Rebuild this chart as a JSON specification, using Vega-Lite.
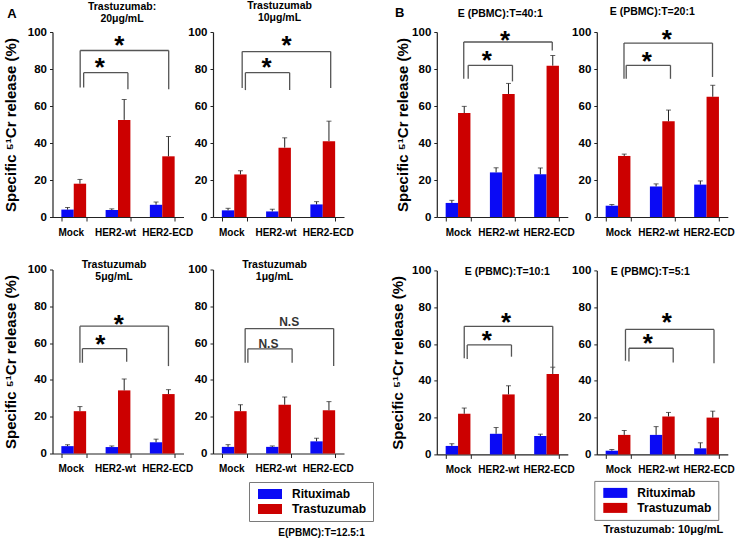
{
"$schema": "https://vega.github.io/schema/vega-lite/v6.json",
"background": "white",
"padding": {"left": 3.5, "top": 1, "right": 0, "bottom": 0},
"config": {
  "font": "Liberation Sans",
  "view": {"stroke": null},
  "axis": {"domainColor": "#222", "tickColor": "#222", "labelColor": "#000", "labelFontWeight": "bold", "labelFont": "Liberation Sans", "grid": false, "titleColor": "#000", "titleFontWeight": "bold", "titleFont": "Liberation Sans", "labelOverlap": false},
  "axisX": {"labelFontSize": 10, "labelAngle": 0, "tickSize": 4, "labelPadding": 6, "tickBand": "extent", "tickExtra": false, "domainWidth": 1.2},
  "axisY": {"labelFontSize": 11.5, "tickSize": 3, "labelPadding": 3, "titleFontSize": 15, "domainWidth": 1.2, "tickCount": 10},
  "title": {"fontSize": 10.5, "fontWeight": "bold", "color": "#000", "lineHeight": 12, "font": "Liberation Sans", "frame": "group", "anchor": "middle"}
},
"datasets": {
  "bars": [
    {"p":"A1","c":"Mock","s":"Rituximab","v":4,"hi":5.2},
    {"p":"A1","c":"Mock","s":"Trastuzumab","v":18,"hi":20.3},
    {"p":"A1","c":"HER2-wt","s":"Rituximab","v":3.8,"hi":4.4},
    {"p":"A1","c":"HER2-wt","s":"Trastuzumab","v":52.5,"hi":63.5},
    {"p":"A1","c":"HER2-ECD","s":"Rituximab","v":6.6,"hi":8.1},
    {"p":"A1","c":"HER2-ECD","s":"Trastuzumab","v":32.8,"hi":43.5},
    {"p":"A2","c":"Mock","s":"Rituximab","v":3.6,"hi":4.7},
    {"p":"A2","c":"Mock","s":"Trastuzumab","v":23,"hi":25},
    {"p":"A2","c":"HER2-wt","s":"Rituximab","v":3,"hi":4.2},
    {"p":"A2","c":"HER2-wt","s":"Trastuzumab","v":37.5,"hi":42.8},
    {"p":"A2","c":"HER2-ECD","s":"Rituximab","v":6.8,"hi":8.3},
    {"p":"A2","c":"HER2-ECD","s":"Trastuzumab","v":41,"hi":51.8},
    {"p":"A3","c":"Mock","s":"Rituximab","v":4,"hi":4.8},
    {"p":"A3","c":"Mock","s":"Trastuzumab","v":23,"hi":25.5},
    {"p":"A3","c":"HER2-wt","s":"Rituximab","v":3.5,"hi":4.1},
    {"p":"A3","c":"HER2-wt","s":"Trastuzumab","v":34.3,"hi":40.5},
    {"p":"A3","c":"HER2-ECD","s":"Rituximab","v":6.1,"hi":7.8},
    {"p":"A3","c":"HER2-ECD","s":"Trastuzumab","v":32.3,"hi":34.7},
    {"p":"A4","c":"Mock","s":"Rituximab","v":3.6,"hi":4.8},
    {"p":"A4","c":"Mock","s":"Trastuzumab","v":23,"hi":26.5},
    {"p":"A4","c":"HER2-wt","s":"Rituximab","v":3.6,"hi":4.1},
    {"p":"A4","c":"HER2-wt","s":"Trastuzumab","v":26.5,"hi":30.7},
    {"p":"A4","c":"HER2-ECD","s":"Rituximab","v":6.6,"hi":8.3},
    {"p":"A4","c":"HER2-ECD","s":"Trastuzumab","v":23.5,"hi":28.2},
    {"p":"B1","c":"Mock","s":"Rituximab","v":7.6,"hi":9},
    {"p":"B1","c":"Mock","s":"Trastuzumab","v":56.2,"hi":59.8},
    {"p":"B1","c":"HER2-wt","s":"Rituximab","v":24.1,"hi":26.6},
    {"p":"B1","c":"HER2-wt","s":"Trastuzumab","v":66.5,"hi":72.2},
    {"p":"B1","c":"HER2-ECD","s":"Rituximab","v":23.1,"hi":26.5},
    {"p":"B1","c":"HER2-ECD","s":"Trastuzumab","v":81.8,"hi":87.3},
    {"p":"B2","c":"Mock","s":"Rituximab","v":6.1,"hi":6.7},
    {"p":"B2","c":"Mock","s":"Trastuzumab","v":33,"hi":34},
    {"p":"B2","c":"HER2-wt","s":"Rituximab","v":16.5,"hi":17.9},
    {"p":"B2","c":"HER2-wt","s":"Trastuzumab","v":51.7,"hi":57.8},
    {"p":"B2","c":"HER2-ECD","s":"Rituximab","v":17.5,"hi":19.5},
    {"p":"B2","c":"HER2-ECD","s":"Trastuzumab","v":65,"hi":71.2},
    {"p":"B3","c":"Mock","s":"Rituximab","v":4.6,"hi":5.8},
    {"p":"B3","c":"Mock","s":"Trastuzumab","v":22.1,"hi":25.2},
    {"p":"B3","c":"HER2-wt","s":"Rituximab","v":11.2,"hi":14.6},
    {"p":"B3","c":"HER2-wt","s":"Trastuzumab","v":32.6,"hi":37.3},
    {"p":"B3","c":"HER2-ECD","s":"Rituximab","v":10,"hi":11},
    {"p":"B3","c":"HER2-ECD","s":"Trastuzumab","v":43.7,"hi":47.4},
    {"p":"B4","c":"Mock","s":"Rituximab","v":2,"hi":2.6},
    {"p":"B4","c":"Mock","s":"Trastuzumab","v":10.6,"hi":13},
    {"p":"B4","c":"HER2-wt","s":"Rituximab","v":10.6,"hi":15.1},
    {"p":"B4","c":"HER2-wt","s":"Trastuzumab","v":20.6,"hi":22.8},
    {"p":"B4","c":"HER2-ECD","s":"Rituximab","v":3.3,"hi":6.3},
    {"p":"B4","c":"HER2-ECD","s":"Trastuzumab","v":20,"hi":23.5}
  ],
  "brk": [
    {"p":"A1","b":"big","c1":"Mock","c2":"Mock","y1":70,"y2":90},
    {"p":"A1","b":"big","c1":"Mock","c2":"HER2-ECD","y1":90,"y2":90},
    {"p":"A1","b":"big","c1":"HER2-ECD","c2":"HER2-ECD","y1":69,"y2":90},
    {"p":"A1","b":"small","c1":"Mock","c2":"Mock","y1":70,"y2":78},
    {"p":"A1","b":"small","c1":"Mock","c2":"HER2-wt","y1":78,"y2":78},
    {"p":"A1","b":"small","c1":"HER2-wt","c2":"HER2-wt","y1":69,"y2":78},
    {"p":"A2","b":"big","c1":"Mock","c2":"Mock","y1":69.7,"y2":89.4},
    {"p":"A2","b":"big","c1":"Mock","c2":"HER2-ECD","y1":89.4,"y2":89.4},
    {"p":"A2","b":"big","c1":"HER2-ECD","c2":"HER2-ECD","y1":69.7,"y2":89.4},
    {"p":"A2","b":"small","c1":"Mock","c2":"Mock","y1":68.6,"y2":78},
    {"p":"A2","b":"small","c1":"Mock","c2":"HER2-wt","y1":78,"y2":78},
    {"p":"A2","b":"small","c1":"HER2-wt","c2":"HER2-wt","y1":68.6,"y2":78},
    {"p":"A3","b":"big","c1":"Mock","c2":"Mock","y1":49.3,"y2":69.2},
    {"p":"A3","b":"big","c1":"Mock","c2":"HER2-ECD","y1":69.2,"y2":69.2},
    {"p":"A3","b":"big","c1":"HER2-ECD","c2":"HER2-ECD","y1":47.5,"y2":69.2},
    {"p":"A3","b":"small","c1":"Mock","c2":"Mock","y1":49.3,"y2":57},
    {"p":"A3","b":"small","c1":"Mock","c2":"HER2-wt","y1":57,"y2":57},
    {"p":"A3","b":"small","c1":"HER2-wt","c2":"HER2-wt","y1":49.8,"y2":57},
    {"p":"A4","b":"big","c1":"Mock","c2":"Mock","y1":49.3,"y2":67.9},
    {"p":"A4","b":"big","c1":"Mock","c2":"HER2-ECD","y1":67.9,"y2":67.9},
    {"p":"A4","b":"big","c1":"HER2-ECD","c2":"HER2-ECD","y1":47.5,"y2":67.9},
    {"p":"A4","b":"small","c1":"Mock","c2":"Mock","y1":49.3,"y2":56.9},
    {"p":"A4","b":"small","c1":"Mock","c2":"HER2-wt","y1":56.9,"y2":56.9},
    {"p":"A4","b":"small","c1":"HER2-wt","c2":"HER2-wt","y1":49.3,"y2":56.9},
    {"p":"B1","b":"big","c1":"Mock","c2":"Mock","y1":74.7,"y2":94.6},
    {"p":"B1","b":"big","c1":"Mock","c2":"HER2-ECD","y1":94.6,"y2":94.6},
    {"p":"B1","b":"big","c1":"HER2-ECD","c2":"HER2-ECD","y1":90,"y2":94.6},
    {"p":"B1","b":"small","c1":"Mock","c2":"Mock","y1":74.7,"y2":82},
    {"p":"B1","b":"small","c1":"Mock","c2":"HER2-wt","y1":82,"y2":82},
    {"p":"B1","b":"small","c1":"HER2-wt","c2":"HER2-wt","y1":73.3,"y2":82},
    {"p":"B2","b":"big","c1":"Mock","c2":"Mock","y1":74.7,"y2":94},
    {"p":"B2","b":"big","c1":"Mock","c2":"HER2-ECD","y1":94,"y2":94},
    {"p":"B2","b":"big","c1":"HER2-ECD","c2":"HER2-ECD","y1":75.7,"y2":94},
    {"p":"B2","b":"small","c1":"Mock","c2":"Mock","y1":74.7,"y2":82},
    {"p":"B2","b":"small","c1":"Mock","c2":"HER2-wt","y1":82,"y2":82},
    {"p":"B2","b":"small","c1":"HER2-wt","c2":"HER2-wt","y1":74.7,"y2":82},
    {"p":"B3","b":"big","c1":"Mock","c2":"Mock","y1":52.2,"y2":69.6},
    {"p":"B3","b":"big","c1":"Mock","c2":"HER2-ECD","y1":69.6,"y2":69.6},
    {"p":"B3","b":"big","c1":"HER2-ECD","c2":"HER2-ECD","y1":46.3,"y2":69.6},
    {"p":"B3","b":"small","c1":"Mock","c2":"Mock","y1":51.8,"y2":59.5},
    {"p":"B3","b":"small","c1":"Mock","c2":"HER2-wt","y1":59.5,"y2":59.5},
    {"p":"B3","b":"small","c1":"HER2-wt","c2":"HER2-wt","y1":53.1,"y2":59.5},
    {"p":"B4","b":"big","c1":"Mock","c2":"Mock","y1":50.9,"y2":67.9},
    {"p":"B4","b":"big","c1":"Mock","c2":"HER2-ECD","y1":67.9,"y2":67.9},
    {"p":"B4","b":"big","c1":"HER2-ECD","c2":"HER2-ECD","y1":49.5,"y2":67.9},
    {"p":"B4","b":"small","c1":"Mock","c2":"Mock","y1":50.5,"y2":57.7},
    {"p":"B4","b":"small","c1":"Mock","c2":"HER2-wt","y1":57.7,"y2":57.7},
    {"p":"B4","b":"small","c1":"HER2-wt","c2":"HER2-wt","y1":50,"y2":57.7}
  ],
  "lab": [
    {"p":"A1","b":"big","c":"HER2-wt","y":92.4,"t":"*"},
    {"p":"A1","b":"small","c":"Mock","y":80.5,"t":"*"},
    {"p":"A2","b":"big","c":"HER2-wt","y":92.4,"t":"*"},
    {"p":"A2","b":"small","c":"Mock","y":80.5,"t":"*"},
    {"p":"A3","b":"big","c":"HER2-wt","y":69.6,"t":"*"},
    {"p":"A3","b":"small","c":"Mock","y":58.8,"t":"*"},
    {"p":"A4","b":"big","c":"HER2-wt","y":71.5,"t":"N.S"},
    {"p":"A4","b":"small","c":"Mock","y":59.7,"t":"N.S"},
    {"p":"B1","b":"big","c":"HER2-wt","y":95.3,"t":"*"},
    {"p":"B1","b":"small","c":"Mock","y":84.2,"t":"*"},
    {"p":"B2","b":"big","c":"HER2-wt","y":95.8,"t":"*"},
    {"p":"B2","b":"small","c":"Mock","y":83.8,"t":"*"},
    {"p":"B3","b":"big","c":"HER2-wt","y":71.2,"t":"*"},
    {"p":"B3","b":"small","c":"Mock","y":61.5,"t":"*"},
    {"p":"B4","b":"big","c":"HER2-wt","y":71.5,"t":"*"},
    {"p":"B4","b":"small","c":"Mock","y":60,"t":"*"}
  ]
},
"spacing": 16.3,
"resolve": {"legend": {"color": "independent"}},
"hconcat": [
 {"spacing": 22.5, "resolve": {"legend": {"color": "independent"}}, "vconcat": [
  {"spacing": 29.5, "bounds": "flush", "resolve": {"legend": {"color": "independent"}}, "hconcat": [
   {"width": 131, "height": 185,
    "title": {"text": ["Trastuzumab:", "20μg/mL"], "dx": 4, "offset": -16.5},
    "layer": [
     {"data": {"name": "bars"}, "transform": [{"filter": "datum.p == 'A1'"}], "mark": {"type": "bar"},
      "encoding": {
       "x": {"field": "c", "type": "nominal", "scale": {"domain": ["Mock","HER2-wt","HER2-ECD"], "paddingInner": 0.44, "paddingOuter": 0.2}, "axis": {"title": "A", "titleX": -41, "titleY": -203.5, "titleFontSize": 13, "titleAngle": 0, "titleAlign": "center", "titleBaseline": "middle", "labelOffset": {"condition": {"test": "datum.value == 'HER2-ECD'", "value": 5}, "value": -3}}},
       "xOffset": {"field": "s", "type": "nominal", "scale": {"domain": ["Rituximab","Trastuzumab"], "paddingInner": 0, "paddingOuter": 0}},
       "y": {"field": "v", "type": "quantitative", "scale": {"domain": [0,100], "nice": false}, "axis": {"values": [0,20,40,60,80,100], "tickCount": 10, "labelOverlap": false, "title": "Specific ⁵¹Cr release (%)", "titlePadding": 8.8}},
       "color": {"field": "s", "type": "nominal", "scale": {"domain": ["Rituximab","Trastuzumab"], "range": ["#0a0af5","#cc0000"]}, "legend": null}}},
     {"data": {"name": "bars"}, "transform": [{"filter": "datum.p == 'A1'"}], "mark": {"type": "rule", "color": "#222"},
      "encoding": {"x": {"field": "c", "type": "nominal", "scale": {"domain": ["Mock","HER2-wt","HER2-ECD"]}}, "xOffset": {"field": "s", "type": "nominal", "scale": {"domain": ["Rituximab","Trastuzumab"]}}, "y": {"field": "v", "type": "quantitative", "scale": {"domain": [0,100]}}, "y2": {"field": "hi"}}},
     {"data": {"name": "bars"}, "transform": [{"filter": "datum.p == 'A1'"}], "mark": {"type": "tick", "color": "#222", "thickness": 1, "size": 5},
      "encoding": {"x": {"field": "c", "type": "nominal", "scale": {"domain": ["Mock","HER2-wt","HER2-ECD"]}}, "xOffset": {"field": "s", "type": "nominal", "scale": {"domain": ["Rituximab","Trastuzumab"]}}, "y": {"field": "hi", "type": "quantitative", "scale": {"domain": [0,100]}}}},
     {"data": {"name": "brk"}, "transform": [{"filter": "datum.p == 'A1' && datum.b == 'big'"}], "mark": {"type": "rule", "color": "#555", "strokeWidth": 1.3},
      "encoding": {"x": {"field": "c1", "type": "nominal", "scale": {"domain": ["Mock","HER2-wt","HER2-ECD"]}, "bandPosition": 0.76}, "x2": {"field": "c2", "bandPosition": 0.76}, "y": {"field": "y1", "type": "quantitative", "scale": {"domain": [0,100]}}, "y2": {"field": "y2"}}},
     {"data": {"name": "brk"}, "transform": [{"filter": "datum.p == 'A1' && datum.b == 'small'"}], "mark": {"type": "rule", "color": "#555", "strokeWidth": 1.3},
      "encoding": {"x": {"field": "c1", "type": "nominal", "scale": {"domain": ["Mock","HER2-wt","HER2-ECD"]}, "bandPosition": 0.9}, "x2": {"field": "c2", "bandPosition": 0.9}, "y": {"field": "y1", "type": "quantitative", "scale": {"domain": [0,100]}}, "y2": {"field": "y2"}}},
     {"data": {"name": "lab"}, "transform": [{"filter": "datum.p == 'A1' && datum.b == 'big'"}], "mark": {"type": "text", "fontSize": 26, "fontWeight": "bold", "baseline": "middle", "color": "#000"},
      "encoding": {"x": {"field": "c", "type": "nominal", "scale": {"domain": ["Mock","HER2-wt","HER2-ECD"]}, "bandPosition": 0.55}, "y": {"field": "y", "type": "quantitative", "scale": {"domain": [0,100]}}, "text": {"field": "t"}}},
     {"data": {"name": "lab"}, "transform": [{"filter": "datum.p == 'A1' && datum.b == 'small'"}], "mark": {"type": "text", "fontSize": 26, "fontWeight": "bold", "baseline": "middle", "color": "#000"},
      "encoding": {"x": {"field": "c", "type": "nominal", "scale": {"domain": ["Mock","HER2-wt","HER2-ECD"]}, "bandPosition": 1.55}, "y": {"field": "y", "type": "quantitative", "scale": {"domain": [0,100]}}, "text": {"field": "t"}}}
    ]},
   {"width": 131, "height": 185,
    "title": {"text": ["Trastuzumab", "10μg/mL"], "dx": 1, "offset": 2.5},
    "layer": [
     {"data": {"name": "bars"}, "transform": [{"filter": "datum.p == 'A2'"}], "mark": {"type": "bar"},
      "encoding": {
       "x": {"field": "c", "type": "nominal", "scale": {"domain": ["Mock","HER2-wt","HER2-ECD"], "paddingInner": 0.44, "paddingOuter": 0.2}, "axis": {"title": null, "labelOffset": {"condition": {"test": "datum.value == 'HER2-ECD'", "value": 5}, "value": -3}}},
       "xOffset": {"field": "s", "type": "nominal", "scale": {"domain": ["Rituximab","Trastuzumab"], "paddingInner": 0, "paddingOuter": 0}},
       "y": {"field": "v", "type": "quantitative", "scale": {"domain": [0,100], "nice": false}, "axis": {"values": [0,20,40,60,80,100], "tickCount": 10, "labelOverlap": false, "title": null}},
       "color": {"field": "s", "type": "nominal", "scale": {"domain": ["Rituximab","Trastuzumab"], "range": ["#0a0af5","#cc0000"]}, "legend": null}}},
     {"data": {"name": "bars"}, "transform": [{"filter": "datum.p == 'A2'"}], "mark": {"type": "rule", "color": "#222"},
      "encoding": {"x": {"field": "c", "type": "nominal", "scale": {"domain": ["Mock","HER2-wt","HER2-ECD"]}}, "xOffset": {"field": "s", "type": "nominal", "scale": {"domain": ["Rituximab","Trastuzumab"]}}, "y": {"field": "v", "type": "quantitative", "scale": {"domain": [0,100]}}, "y2": {"field": "hi"}}},
     {"data": {"name": "bars"}, "transform": [{"filter": "datum.p == 'A2'"}], "mark": {"type": "tick", "color": "#222", "thickness": 1, "size": 5},
      "encoding": {"x": {"field": "c", "type": "nominal", "scale": {"domain": ["Mock","HER2-wt","HER2-ECD"]}}, "xOffset": {"field": "s", "type": "nominal", "scale": {"domain": ["Rituximab","Trastuzumab"]}}, "y": {"field": "hi", "type": "quantitative", "scale": {"domain": [0,100]}}}},
     {"data": {"name": "brk"}, "transform": [{"filter": "datum.p == 'A2' && datum.b == 'big'"}], "mark": {"type": "rule", "color": "#555", "strokeWidth": 1.3},
      "encoding": {"x": {"field": "c1", "type": "nominal", "scale": {"domain": ["Mock","HER2-wt","HER2-ECD"]}, "bandPosition": 0.82}, "x2": {"field": "c2", "bandPosition": 0.82}, "y": {"field": "y1", "type": "quantitative", "scale": {"domain": [0,100]}}, "y2": {"field": "y2"}}},
     {"data": {"name": "brk"}, "transform": [{"filter": "datum.p == 'A2' && datum.b == 'small'"}], "mark": {"type": "rule", "color": "#555", "strokeWidth": 1.3},
      "encoding": {"x": {"field": "c1", "type": "nominal", "scale": {"domain": ["Mock","HER2-wt","HER2-ECD"]}, "bandPosition": 0.95}, "x2": {"field": "c2", "bandPosition": 0.95}, "y": {"field": "y1", "type": "quantitative", "scale": {"domain": [0,100]}}, "y2": {"field": "y2"}}},
     {"data": {"name": "lab"}, "transform": [{"filter": "datum.p == 'A2' && datum.b == 'big'"}], "mark": {"type": "text", "fontSize": 26, "fontWeight": "bold", "baseline": "middle", "color": "#000"},
      "encoding": {"x": {"field": "c", "type": "nominal", "scale": {"domain": ["Mock","HER2-wt","HER2-ECD"]}, "bandPosition": 0.83}, "y": {"field": "y", "type": "quantitative", "scale": {"domain": [0,100]}}, "text": {"field": "t"}}},
     {"data": {"name": "lab"}, "transform": [{"filter": "datum.p == 'A2' && datum.b == 'small'"}], "mark": {"type": "text", "fontSize": 26, "fontWeight": "bold", "baseline": "middle", "color": "#000"},
      "encoding": {"x": {"field": "c", "type": "nominal", "scale": {"domain": ["Mock","HER2-wt","HER2-ECD"]}, "bandPosition": 1.8}, "y": {"field": "y", "type": "quantitative", "scale": {"domain": [0,100]}}, "text": {"field": "t"}}}
    ]}
  ]},
  {"spacing": 29.5, "bounds": "flush", "resolve": {"legend": {"color": "independent"}}, "hconcat": [
   {"width": 131, "height": 184,
    "title": {"text": ["Trastuzumab", "5μg/mL"], "dx": -4, "offset": -18.75},
    "layer": [
     {"data": {"name": "bars"}, "transform": [{"filter": "datum.p == 'A3'"}], "mark": {"type": "bar"},
      "encoding": {
       "x": {"field": "c", "type": "nominal", "scale": {"domain": ["Mock","HER2-wt","HER2-ECD"], "paddingInner": 0.44, "paddingOuter": 0.2}, "axis": {"title": null, "labelOffset": {"condition": {"test": "datum.value == 'HER2-ECD'", "value": 5}, "value": -3}}},
       "xOffset": {"field": "s", "type": "nominal", "scale": {"domain": ["Rituximab","Trastuzumab"], "paddingInner": 0, "paddingOuter": 0}},
       "y": {"field": "v", "type": "quantitative", "scale": {"domain": [0,100], "nice": false}, "axis": {"values": [0,20,40,60,80,100], "tickCount": 10, "labelOverlap": false, "title": "Specific ⁵¹Cr release (%)", "titlePadding": 8.8}},
       "color": {"field": "s", "type": "nominal", "scale": {"domain": ["Rituximab","Trastuzumab"], "range": ["#0a0af5","#cc0000"]}, "legend": null}}},
     {"data": {"name": "bars"}, "transform": [{"filter": "datum.p == 'A3'"}], "mark": {"type": "rule", "color": "#222"},
      "encoding": {"x": {"field": "c", "type": "nominal", "scale": {"domain": ["Mock","HER2-wt","HER2-ECD"]}}, "xOffset": {"field": "s", "type": "nominal", "scale": {"domain": ["Rituximab","Trastuzumab"]}}, "y": {"field": "v", "type": "quantitative", "scale": {"domain": [0,100]}}, "y2": {"field": "hi"}}},
     {"data": {"name": "bars"}, "transform": [{"filter": "datum.p == 'A3'"}], "mark": {"type": "tick", "color": "#222", "thickness": 1, "size": 5},
      "encoding": {"x": {"field": "c", "type": "nominal", "scale": {"domain": ["Mock","HER2-wt","HER2-ECD"]}}, "xOffset": {"field": "s", "type": "nominal", "scale": {"domain": ["Rituximab","Trastuzumab"]}}, "y": {"field": "hi", "type": "quantitative", "scale": {"domain": [0,100]}}}},
     {"data": {"name": "brk"}, "transform": [{"filter": "datum.p == 'A3' && datum.b == 'big'"}], "mark": {"type": "rule", "color": "#555", "strokeWidth": 1.3},
      "encoding": {"x": {"field": "c1", "type": "nominal", "scale": {"domain": ["Mock","HER2-wt","HER2-ECD"]}, "bandPosition": 0.75}, "x2": {"field": "c2", "bandPosition": 0.75}, "y": {"field": "y1", "type": "quantitative", "scale": {"domain": [0,100]}}, "y2": {"field": "y2"}}},
     {"data": {"name": "brk"}, "transform": [{"filter": "datum.p == 'A3' && datum.b == 'small'"}], "mark": {"type": "rule", "color": "#555", "strokeWidth": 1.3},
      "encoding": {"x": {"field": "c1", "type": "nominal", "scale": {"domain": ["Mock","HER2-wt","HER2-ECD"]}, "bandPosition": 0.85}, "x2": {"field": "c2", "bandPosition": 0.85}, "y": {"field": "y1", "type": "quantitative", "scale": {"domain": [0,100]}}, "y2": {"field": "y2"}}},
     {"data": {"name": "lab"}, "transform": [{"filter": "datum.p == 'A3' && datum.b == 'big'"}], "mark": {"type": "text", "fontSize": 26, "fontWeight": "bold", "baseline": "middle", "color": "#000"},
      "encoding": {"x": {"field": "c", "type": "nominal", "scale": {"domain": ["Mock","HER2-wt","HER2-ECD"]}, "bandPosition": 0.53}, "y": {"field": "y", "type": "quantitative", "scale": {"domain": [0,100]}}, "text": {"field": "t"}}},
     {"data": {"name": "lab"}, "transform": [{"filter": "datum.p == 'A3' && datum.b == 'small'"}], "mark": {"type": "text", "fontSize": 26, "fontWeight": "bold", "baseline": "middle", "color": "#000"},
      "encoding": {"x": {"field": "c", "type": "nominal", "scale": {"domain": ["Mock","HER2-wt","HER2-ECD"]}, "bandPosition": 1.57}, "y": {"field": "y", "type": "quantitative", "scale": {"domain": [0,100]}}, "text": {"field": "t"}}}
    ]},
   {"width": 131, "height": 184,
    "title": {"text": ["Trastuzumab", "1μg/mL"], "dx": -4, "offset": -18.75},
    "layer": [
     {"data": {"name": "bars"}, "transform": [{"filter": "datum.p == 'A4'"}], "mark": {"type": "bar"},
      "encoding": {
       "x": {"field": "c", "type": "nominal", "scale": {"domain": ["Mock","HER2-wt","HER2-ECD"], "paddingInner": 0.44, "paddingOuter": 0.2}, "axis": {"title": "E(PBMC):T=12.5:1", "titleX": 108, "titleY": 79, "titleFontSize": 10, "titleAngle": 0, "titleAlign": "center", "titleBaseline": "middle", "labelOffset": {"condition": {"test": "datum.value == 'HER2-ECD'", "value": 5}, "value": -3}}},
       "xOffset": {"field": "s", "type": "nominal", "scale": {"domain": ["Rituximab","Trastuzumab"], "paddingInner": 0, "paddingOuter": 0}},
       "y": {"field": "v", "type": "quantitative", "scale": {"domain": [0,100], "nice": false}, "axis": {"values": [0,20,40,60,80,100], "tickCount": 10, "labelOverlap": false, "title": null}},
       "color": {"field": "s", "type": "nominal", "scale": {"domain": ["Rituximab","Trastuzumab"], "range": ["#0a0af5","#cc0000"]},
         "legend": {"orient": "none", "legendX": 36, "legendY": 212.5, "title": null, "direction": "vertical", "strokeColor": "#7a7a7a", "fillColor": "#ffffff", "padding": 6, "symbolType": "M-2.4,-1H2.4V1H-2.4Z", "symbolSize": 100, "symbolStrokeWidth": 0, "symbolOffset": 9, "labelOffset": 16, "labelFontSize": 12, "labelFontWeight": "bold", "labelColor": "#000", "rowPadding": 3}}}},
     {"data": {"name": "bars"}, "transform": [{"filter": "datum.p == 'A4'"}], "mark": {"type": "rule", "color": "#222"},
      "encoding": {"x": {"field": "c", "type": "nominal", "scale": {"domain": ["Mock","HER2-wt","HER2-ECD"]}}, "xOffset": {"field": "s", "type": "nominal", "scale": {"domain": ["Rituximab","Trastuzumab"]}}, "y": {"field": "v", "type": "quantitative", "scale": {"domain": [0,100]}}, "y2": {"field": "hi"}}},
     {"data": {"name": "bars"}, "transform": [{"filter": "datum.p == 'A4'"}], "mark": {"type": "tick", "color": "#222", "thickness": 1, "size": 5},
      "encoding": {"x": {"field": "c", "type": "nominal", "scale": {"domain": ["Mock","HER2-wt","HER2-ECD"]}}, "xOffset": {"field": "s", "type": "nominal", "scale": {"domain": ["Rituximab","Trastuzumab"]}}, "y": {"field": "hi", "type": "quantitative", "scale": {"domain": [0,100]}}}},
     {"data": {"name": "brk"}, "transform": [{"filter": "datum.p == 'A4' && datum.b == 'big'"}], "mark": {"type": "rule", "color": "#555", "strokeWidth": 1.3},
      "encoding": {"x": {"field": "c1", "type": "nominal", "scale": {"domain": ["Mock","HER2-wt","HER2-ECD"]}, "bandPosition": 0.94}, "x2": {"field": "c2", "bandPosition": 0.94}, "y": {"field": "y1", "type": "quantitative", "scale": {"domain": [0,100]}}, "y2": {"field": "y2"}}},
     {"data": {"name": "brk"}, "transform": [{"filter": "datum.p == 'A4' && datum.b == 'small'"}], "mark": {"type": "rule", "color": "#555", "strokeWidth": 1.3},
      "encoding": {"x": {"field": "c1", "type": "nominal", "scale": {"domain": ["Mock","HER2-wt","HER2-ECD"]}, "bandPosition": 1.05}, "x2": {"field": "c2", "bandPosition": 1.05}, "y": {"field": "y1", "type": "quantitative", "scale": {"domain": [0,100]}}, "y2": {"field": "y2"}}},
     {"data": {"name": "lab"}, "transform": [{"filter": "datum.p == 'A4' && datum.b == 'big'"}], "mark": {"type": "text", "fontSize": 12, "fontWeight": "bold", "baseline": "middle", "color": "#333"},
      "encoding": {"x": {"field": "c", "type": "nominal", "scale": {"domain": ["Mock","HER2-wt","HER2-ECD"]}, "bandPosition": 0.93}, "y": {"field": "y", "type": "quantitative", "scale": {"domain": [0,100]}}, "text": {"field": "t"}}},
     {"data": {"name": "lab"}, "transform": [{"filter": "datum.p == 'A4' && datum.b == 'small'"}], "mark": {"type": "text", "fontSize": 12, "fontWeight": "bold", "baseline": "middle", "color": "#333"},
      "encoding": {"x": {"field": "c", "type": "nominal", "scale": {"domain": ["Mock","HER2-wt","HER2-ECD"]}, "bandPosition": 1.88}, "y": {"field": "y", "type": "quantitative", "scale": {"domain": [0,100]}}, "text": {"field": "t"}}}
    ]}
  ]}
 ]},
 {"spacing": 27.4, "resolve": {"legend": {"color": "independent"}}, "vconcat": [
  {"spacing": 29, "bounds": "flush", "resolve": {"legend": {"color": "independent"}}, "hconcat": [
   {"width": 131, "height": 185,
    "title": {"text": ["", "E (PBMC):T=40:1"], "dx": -2, "offset": -13.1, "lineHeight": 1.2},
    "layer": [
     {"data": {"name": "bars"}, "transform": [{"filter": "datum.p == 'B1'"}], "mark": {"type": "bar"},
      "encoding": {
       "x": {"field": "c", "type": "nominal", "scale": {"domain": ["Mock","HER2-wt","HER2-ECD"], "paddingInner": 0.44, "paddingOuter": 0.2}, "axis": {"title": "B", "titleX": -37.5, "titleY": -204.3, "titleFontSize": 13, "titleAngle": 0, "titleAlign": "center", "titleBaseline": "middle", "labelOffset": {"condition": [{"test": "datum.value == 'HER2-ECD'", "value": 2}, {"test": "datum.value == 'HER2-wt'", "value": -4}], "value": 0}}},
       "xOffset": {"field": "s", "type": "nominal", "scale": {"domain": ["Rituximab","Trastuzumab"], "paddingInner": 0, "paddingOuter": 0}},
       "y": {"field": "v", "type": "quantitative", "scale": {"domain": [0,100], "nice": false}, "axis": {"values": [0,20,40,60,80,100], "tickCount": 10, "labelOverlap": false, "title": "Specific ⁵¹Cr release (%)", "titlePadding": 1}},
       "color": {"field": "s", "type": "nominal", "scale": {"domain": ["Rituximab","Trastuzumab"], "range": ["#0a0af5","#cc0000"]}, "legend": null}}},
     {"data": {"name": "bars"}, "transform": [{"filter": "datum.p == 'B1'"}], "mark": {"type": "rule", "color": "#222"},
      "encoding": {"x": {"field": "c", "type": "nominal", "scale": {"domain": ["Mock","HER2-wt","HER2-ECD"]}}, "xOffset": {"field": "s", "type": "nominal", "scale": {"domain": ["Rituximab","Trastuzumab"]}}, "y": {"field": "v", "type": "quantitative", "scale": {"domain": [0,100]}}, "y2": {"field": "hi"}}},
     {"data": {"name": "bars"}, "transform": [{"filter": "datum.p == 'B1'"}], "mark": {"type": "tick", "color": "#222", "thickness": 1, "size": 5},
      "encoding": {"x": {"field": "c", "type": "nominal", "scale": {"domain": ["Mock","HER2-wt","HER2-ECD"]}}, "xOffset": {"field": "s", "type": "nominal", "scale": {"domain": ["Rituximab","Trastuzumab"]}}, "y": {"field": "hi", "type": "quantitative", "scale": {"domain": [0,100]}}}},
     {"data": {"name": "brk"}, "transform": [{"filter": "datum.p == 'B1' && datum.b == 'big'"}], "mark": {"type": "rule", "color": "#555", "strokeWidth": 1.3},
      "encoding": {"x": {"field": "c1", "type": "nominal", "scale": {"domain": ["Mock","HER2-wt","HER2-ECD"]}, "bandPosition": 0.73}, "x2": {"field": "c2", "bandPosition": 0.73}, "y": {"field": "y1", "type": "quantitative", "scale": {"domain": [0,100]}}, "y2": {"field": "y2"}}},
     {"data": {"name": "brk"}, "transform": [{"filter": "datum.p == 'B1' && datum.b == 'small'"}], "mark": {"type": "rule", "color": "#555", "strokeWidth": 1.3},
      "encoding": {"x": {"field": "c1", "type": "nominal", "scale": {"domain": ["Mock","HER2-wt","HER2-ECD"]}, "bandPosition": 0.91}, "x2": {"field": "c2", "bandPosition": 0.91}, "y": {"field": "y1", "type": "quantitative", "scale": {"domain": [0,100]}}, "y2": {"field": "y2"}}},
     {"data": {"name": "lab"}, "transform": [{"filter": "datum.p == 'B1' && datum.b == 'big'"}], "mark": {"type": "text", "fontSize": 26, "fontWeight": "bold", "baseline": "middle", "color": "#000"},
      "encoding": {"x": {"field": "c", "type": "nominal", "scale": {"domain": ["Mock","HER2-wt","HER2-ECD"]}, "bandPosition": 0.61}, "y": {"field": "y", "type": "quantitative", "scale": {"domain": [0,100]}}, "text": {"field": "t"}}},
     {"data": {"name": "lab"}, "transform": [{"filter": "datum.p == 'B1' && datum.b == 'small'"}], "mark": {"type": "text", "fontSize": 26, "fontWeight": "bold", "baseline": "middle", "color": "#000"},
      "encoding": {"x": {"field": "c", "type": "nominal", "scale": {"domain": ["Mock","HER2-wt","HER2-ECD"]}, "bandPosition": 1.66}, "y": {"field": "y", "type": "quantitative", "scale": {"domain": [0,100]}}, "text": {"field": "t"}}}
    ]},
   {"width": 131, "height": 185,
    "title": {"text": "E (PBMC):T=20:1", "dx": -10, "offset": 8.9},
    "layer": [
     {"data": {"name": "bars"}, "transform": [{"filter": "datum.p == 'B2'"}], "mark": {"type": "bar"},
      "encoding": {
       "x": {"field": "c", "type": "nominal", "scale": {"domain": ["Mock","HER2-wt","HER2-ECD"], "paddingInner": 0.44, "paddingOuter": 0.2}, "axis": {"title": null, "labelOffset": {"condition": [{"test": "datum.value == 'HER2-ECD'", "value": 2}, {"test": "datum.value == 'HER2-wt'", "value": -4}], "value": 0}}},
       "xOffset": {"field": "s", "type": "nominal", "scale": {"domain": ["Rituximab","Trastuzumab"], "paddingInner": 0, "paddingOuter": 0}},
       "y": {"field": "v", "type": "quantitative", "scale": {"domain": [0,100], "nice": false}, "axis": {"values": [0,20,40,60,80,100], "tickCount": 10, "labelOverlap": false, "title": null}},
       "color": {"field": "s", "type": "nominal", "scale": {"domain": ["Rituximab","Trastuzumab"], "range": ["#0a0af5","#cc0000"]}, "legend": null}}},
     {"data": {"name": "bars"}, "transform": [{"filter": "datum.p == 'B2'"}], "mark": {"type": "rule", "color": "#222"},
      "encoding": {"x": {"field": "c", "type": "nominal", "scale": {"domain": ["Mock","HER2-wt","HER2-ECD"]}}, "xOffset": {"field": "s", "type": "nominal", "scale": {"domain": ["Rituximab","Trastuzumab"]}}, "y": {"field": "v", "type": "quantitative", "scale": {"domain": [0,100]}}, "y2": {"field": "hi"}}},
     {"data": {"name": "bars"}, "transform": [{"filter": "datum.p == 'B2'"}], "mark": {"type": "tick", "color": "#222", "thickness": 1, "size": 5},
      "encoding": {"x": {"field": "c", "type": "nominal", "scale": {"domain": ["Mock","HER2-wt","HER2-ECD"]}}, "xOffset": {"field": "s", "type": "nominal", "scale": {"domain": ["Rituximab","Trastuzumab"]}}, "y": {"field": "hi", "type": "quantitative", "scale": {"domain": [0,100]}}}},
     {"data": {"name": "brk"}, "transform": [{"filter": "datum.p == 'B2' && datum.b == 'big'"}], "mark": {"type": "rule", "color": "#555", "strokeWidth": 1.3},
      "encoding": {"x": {"field": "c1", "type": "nominal", "scale": {"domain": ["Mock","HER2-wt","HER2-ECD"]}, "bandPosition": 0.74}, "x2": {"field": "c2", "bandPosition": 0.74}, "y": {"field": "y1", "type": "quantitative", "scale": {"domain": [0,100]}}, "y2": {"field": "y2"}}},
     {"data": {"name": "brk"}, "transform": [{"filter": "datum.p == 'B2' && datum.b == 'small'"}], "mark": {"type": "rule", "color": "#555", "strokeWidth": 1.3},
      "encoding": {"x": {"field": "c1", "type": "nominal", "scale": {"domain": ["Mock","HER2-wt","HER2-ECD"]}, "bandPosition": 0.83}, "x2": {"field": "c2", "bandPosition": 0.83}, "y": {"field": "y1", "type": "quantitative", "scale": {"domain": [0,100]}}, "y2": {"field": "y2"}}},
     {"data": {"name": "lab"}, "transform": [{"filter": "datum.p == 'B2' && datum.b == 'big'"}], "mark": {"type": "text", "fontSize": 26, "fontWeight": "bold", "baseline": "middle", "color": "#000"},
      "encoding": {"x": {"field": "c", "type": "nominal", "scale": {"domain": ["Mock","HER2-wt","HER2-ECD"]}, "bandPosition": 0.68}, "y": {"field": "y", "type": "quantitative", "scale": {"domain": [0,100]}}, "text": {"field": "t"}}},
     {"data": {"name": "lab"}, "transform": [{"filter": "datum.p == 'B2' && datum.b == 'small'"}], "mark": {"type": "text", "fontSize": 26, "fontWeight": "bold", "baseline": "middle", "color": "#000"},
      "encoding": {"x": {"field": "c", "type": "nominal", "scale": {"domain": ["Mock","HER2-wt","HER2-ECD"]}, "bandPosition": 1.66}, "y": {"field": "y", "type": "quantitative", "scale": {"domain": [0,100]}}, "text": {"field": "t"}}}
    ]}
  ]},
  {"spacing": 29, "bounds": "flush", "resolve": {"legend": {"color": "independent"}}, "hconcat": [
   {"width": 131, "height": 184,
    "title": {"text": "E (PBMC):T=10:1", "dx": 5, "offset": -13.25},
    "layer": [
     {"data": {"name": "bars"}, "transform": [{"filter": "datum.p == 'B3'"}], "mark": {"type": "bar"},
      "encoding": {
       "x": {"field": "c", "type": "nominal", "scale": {"domain": ["Mock","HER2-wt","HER2-ECD"], "paddingInner": 0.44, "paddingOuter": 0.2}, "axis": {"title": null, "labelOffset": {"condition": [{"test": "datum.value == 'HER2-ECD'", "value": 2}, {"test": "datum.value == 'HER2-wt'", "value": -4}], "value": 0}}},
       "xOffset": {"field": "s", "type": "nominal", "scale": {"domain": ["Rituximab","Trastuzumab"], "paddingInner": 0, "paddingOuter": 0}},
       "y": {"field": "v", "type": "quantitative", "scale": {"domain": [0,100], "nice": false}, "axis": {"values": [0,20,40,60,80,100], "tickCount": 10, "labelOverlap": false, "title": "Specific ⁵¹Cr release (%)", "titlePadding": 6}},
       "color": {"field": "s", "type": "nominal", "scale": {"domain": ["Rituximab","Trastuzumab"], "range": ["#0a0af5","#cc0000"]}, "legend": null}}},
     {"data": {"name": "bars"}, "transform": [{"filter": "datum.p == 'B3'"}], "mark": {"type": "rule", "color": "#222"},
      "encoding": {"x": {"field": "c", "type": "nominal", "scale": {"domain": ["Mock","HER2-wt","HER2-ECD"]}}, "xOffset": {"field": "s", "type": "nominal", "scale": {"domain": ["Rituximab","Trastuzumab"]}}, "y": {"field": "v", "type": "quantitative", "scale": {"domain": [0,100]}}, "y2": {"field": "hi"}}},
     {"data": {"name": "bars"}, "transform": [{"filter": "datum.p == 'B3'"}], "mark": {"type": "tick", "color": "#222", "thickness": 1, "size": 5},
      "encoding": {"x": {"field": "c", "type": "nominal", "scale": {"domain": ["Mock","HER2-wt","HER2-ECD"]}}, "xOffset": {"field": "s", "type": "nominal", "scale": {"domain": ["Rituximab","Trastuzumab"]}}, "y": {"field": "hi", "type": "quantitative", "scale": {"domain": [0,100]}}}},
     {"data": {"name": "brk"}, "transform": [{"filter": "datum.p == 'B3' && datum.b == 'big'"}], "mark": {"type": "rule", "color": "#555", "strokeWidth": 1.3},
      "encoding": {"x": {"field": "c1", "type": "nominal", "scale": {"domain": ["Mock","HER2-wt","HER2-ECD"]}, "bandPosition": 0.75}, "x2": {"field": "c2", "bandPosition": 0.75}, "y": {"field": "y1", "type": "quantitative", "scale": {"domain": [0,100]}}, "y2": {"field": "y2"}}},
     {"data": {"name": "brk"}, "transform": [{"filter": "datum.p == 'B3' && datum.b == 'small'"}], "mark": {"type": "rule", "color": "#555", "strokeWidth": 1.3},
      "encoding": {"x": {"field": "c1", "type": "nominal", "scale": {"domain": ["Mock","HER2-wt","HER2-ECD"]}, "bandPosition": 0.87}, "x2": {"field": "c2", "bandPosition": 0.87}, "y": {"field": "y1", "type": "quantitative", "scale": {"domain": [0,100]}}, "y2": {"field": "y2"}}},
     {"data": {"name": "lab"}, "transform": [{"filter": "datum.p == 'B3' && datum.b == 'big'"}], "mark": {"type": "text", "fontSize": 26, "fontWeight": "bold", "baseline": "middle", "color": "#000"},
      "encoding": {"x": {"field": "c", "type": "nominal", "scale": {"domain": ["Mock","HER2-wt","HER2-ECD"]}, "bandPosition": 0.65}, "y": {"field": "y", "type": "quantitative", "scale": {"domain": [0,100]}}, "text": {"field": "t"}}},
     {"data": {"name": "lab"}, "transform": [{"filter": "datum.p == 'B3' && datum.b == 'small'"}], "mark": {"type": "text", "fontSize": 26, "fontWeight": "bold", "baseline": "middle", "color": "#000"},
      "encoding": {"x": {"field": "c", "type": "nominal", "scale": {"domain": ["Mock","HER2-wt","HER2-ECD"]}, "bandPosition": 1.66}, "y": {"field": "y", "type": "quantitative", "scale": {"domain": [0,100]}}, "text": {"field": "t"}}}
    ]},
   {"width": 131, "height": 184,
    "title": {"text": "E (PBMC):T=5:1", "dx": -12, "offset": -13.25},
    "layer": [
     {"data": {"name": "bars"}, "transform": [{"filter": "datum.p == 'B4'"}], "mark": {"type": "bar"},
      "encoding": {
       "x": {"field": "c", "type": "nominal", "scale": {"domain": ["Mock","HER2-wt","HER2-ECD"], "paddingInner": 0.44, "paddingOuter": 0.2}, "axis": {"title": "Trastuzumab: 10μg/mL", "titleX": 66, "titleY": 75.5, "titleFontSize": 11, "titleAngle": 0, "titleAlign": "center", "titleBaseline": "middle", "labelOffset": {"condition": [{"test": "datum.value == 'HER2-ECD'", "value": 2}, {"test": "datum.value == 'HER2-wt'", "value": -4}], "value": 0}}},
       "xOffset": {"field": "s", "type": "nominal", "scale": {"domain": ["Rituximab","Trastuzumab"], "paddingInner": 0, "paddingOuter": 0}},
       "y": {"field": "v", "type": "quantitative", "scale": {"domain": [0,100], "nice": false}, "axis": {"values": [0,20,40,60,80,100], "tickCount": 10, "labelOverlap": false, "title": null}},
       "color": {"field": "s", "type": "nominal", "scale": {"domain": ["Rituximab","Trastuzumab"], "range": ["#0a0af5","#cc0000"]},
         "legend": {"orient": "none", "legendX": -2.5, "legendY": 210.5, "title": null, "direction": "vertical", "strokeColor": "#7a7a7a", "fillColor": "#ffffff", "padding": 6, "symbolType": "M-2.4,-1H2.4V1H-2.4Z", "symbolSize": 100, "symbolStrokeWidth": 0, "symbolOffset": 9, "labelOffset": 16, "labelFontSize": 12, "labelFontWeight": "bold", "labelColor": "#000", "rowPadding": 3}}}},
     {"data": {"name": "bars"}, "transform": [{"filter": "datum.p == 'B4'"}], "mark": {"type": "rule", "color": "#222"},
      "encoding": {"x": {"field": "c", "type": "nominal", "scale": {"domain": ["Mock","HER2-wt","HER2-ECD"]}}, "xOffset": {"field": "s", "type": "nominal", "scale": {"domain": ["Rituximab","Trastuzumab"]}}, "y": {"field": "v", "type": "quantitative", "scale": {"domain": [0,100]}}, "y2": {"field": "hi"}}},
     {"data": {"name": "bars"}, "transform": [{"filter": "datum.p == 'B4'"}], "mark": {"type": "tick", "color": "#222", "thickness": 1, "size": 5},
      "encoding": {"x": {"field": "c", "type": "nominal", "scale": {"domain": ["Mock","HER2-wt","HER2-ECD"]}}, "xOffset": {"field": "s", "type": "nominal", "scale": {"domain": ["Rituximab","Trastuzumab"]}}, "y": {"field": "hi", "type": "quantitative", "scale": {"domain": [0,100]}}}},
     {"data": {"name": "brk"}, "transform": [{"filter": "datum.p == 'B4' && datum.b == 'big'"}], "mark": {"type": "rule", "color": "#555", "strokeWidth": 1.3},
      "encoding": {"x": {"field": "c1", "type": "nominal", "scale": {"domain": ["Mock","HER2-wt","HER2-ECD"]}, "bandPosition": 0.8}, "x2": {"field": "c2", "bandPosition": 0.8}, "y": {"field": "y1", "type": "quantitative", "scale": {"domain": [0,100]}}, "y2": {"field": "y2"}}},
     {"data": {"name": "brk"}, "transform": [{"filter": "datum.p == 'B4' && datum.b == 'small'"}], "mark": {"type": "rule", "color": "#555", "strokeWidth": 1.3},
      "encoding": {"x": {"field": "c1", "type": "nominal", "scale": {"domain": ["Mock","HER2-wt","HER2-ECD"]}, "bandPosition": 0.94}, "x2": {"field": "c2", "bandPosition": 0.94}, "y": {"field": "y1", "type": "quantitative", "scale": {"domain": [0,100]}}, "y2": {"field": "y2"}}},
     {"data": {"name": "lab"}, "transform": [{"filter": "datum.p == 'B4' && datum.b == 'big'"}], "mark": {"type": "text", "fontSize": 26, "fontWeight": "bold", "baseline": "middle", "color": "#000"},
      "encoding": {"x": {"field": "c", "type": "nominal", "scale": {"domain": ["Mock","HER2-wt","HER2-ECD"]}, "bandPosition": 0.68}, "y": {"field": "y", "type": "quantitative", "scale": {"domain": [0,100]}}, "text": {"field": "t"}}},
     {"data": {"name": "lab"}, "transform": [{"filter": "datum.p == 'B4' && datum.b == 'small'"}], "mark": {"type": "text", "fontSize": 26, "fontWeight": "bold", "baseline": "middle", "color": "#000"},
      "encoding": {"x": {"field": "c", "type": "nominal", "scale": {"domain": ["Mock","HER2-wt","HER2-ECD"]}, "bandPosition": 1.7}, "y": {"field": "y", "type": "quantitative", "scale": {"domain": [0,100]}}, "text": {"field": "t"}}}
    ]}
  ]}
 ]}
]
}
